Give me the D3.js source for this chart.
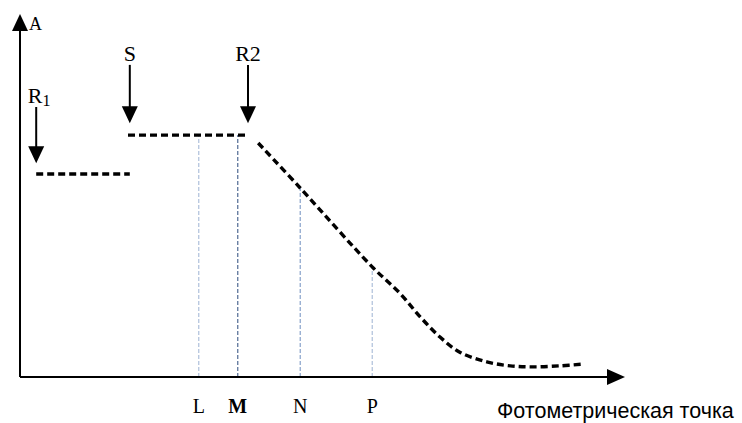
<!DOCTYPE html>
<html>
<head>
<meta charset="utf-8">
<script src="https://cdn.jsdelivr.net/npm/d3@7"></script>
<style>
  body { margin: 0; background: #fff; }
  svg { display: block; }
</style>
</head>
<body>
<script>
// plateaus (x from, x to, A level)
var plateauR1 = [[2.7, 56.4], [18.3, 56.4]];
var plateauS = [[18.0, 67.2], [38.0, 67.2]];
// falling part of the curve
var slope = [[39.7, 65.0], [46.7, 52.5], [58.7, 30.6], [63.3, 23.3], [66.7, 16.7],
             [70.0, 11.1], [73.3, 6.9], [77.8, 4.2], [81.7, 3.1], [85.5, 2.8],
             [90.0, 3.1], [93.8, 3.6]];

var markNames = ["L", "M", "N", "P"];
var markX = [29.8, 36.3, 46.7, 58.7];
var markTop = [67.2, 67.2, 52.5, 30.6];
var markColor = ["#9db3d3", "#2c4a7c", "#6f8fbf", "#9db3d3"];

var arrowNames = ["R1", "S", "R2"];
var arrowX = [2.7, 18.3, 38.0];
var arrowTail = [75.0, 86.7, 86.7];
var arrowTip = [59.4, 70.5, 70.5];

var width = 742, height = 423;

var svg = d3.select("body").append("svg")
    .attr("width", width)
    .attr("height", height);

var x = d3.scaleLinear().domain([0, 100]).range([20, 620]);
var y = d3.scaleLinear().domain([0, 100]).range([377, 17]);

// vertical dashed guides
svg.selectAll(".guide")
    .data(markX)
    .enter().append("line")
    .attr("x1", function(d) { return x(d); })
    .attr("x2", function(d) { return x(d); })
    .attr("y1", y(0))
    .attr("y2", function(d, i) { return y(markTop[i]); })
    .style("stroke", function(d, i) { return markColor[i]; })
    .style("stroke-width", 1)
    .style("stroke-dasharray", "4,2");

// axes
svg.append("line")
    .attr("x1", x(0)).attr("y1", y(0))
    .attr("x2", x(99)).attr("y2", y(0))
    .style("stroke", "#000").style("stroke-width", 2);
svg.append("path")
    .attr("d", "M" + (x(100) + 5) + "," + y(0) + "L" + (x(100) - 13) + "," + (y(0) - 8) + "L" + (x(100) - 13) + "," + (y(0) + 8) + "Z")
    .style("fill", "#000");

svg.append("line")
    .attr("x1", x(0)).attr("y1", y(0))
    .attr("x2", x(0)).attr("y2", y(98))
    .style("stroke", "#000").style("stroke-width", 2);
svg.append("path")
    .attr("d", "M" + x(0) + "," + (y(100) - 3) + "L" + (x(0) - 8) + "," + (y(100) + 14) + "L" + (x(0) + 8) + "," + (y(100) + 14) + "Z")
    .style("fill", "#000");

svg.append("text")
    .attr("x", x(0) + 9).attr("y", y(100) + 13)
    .style("font-family", "Liberation Serif, serif")
    .style("font-size", "18px")
    .text("A");

// dashed curve
var line = d3.line()
    .x(function(d) { return x(d[0]); })
    .y(function(d) { return y(d[1]); });

var curveStyle = function(sel) {
  sel.style("fill", "none")
     .style("stroke", "#000")
     .style("stroke-width", 3.4)
     .style("stroke-dasharray", "7,4");
};

svg.append("path").datum(plateauR1).attr("d", line).call(curveStyle);
svg.append("path").datum(plateauS).attr("d", line).call(curveStyle);
svg.append("path").datum(slope)
    .attr("d", line.curve(d3.curveCatmullRom))
    .call(curveStyle);

// arrows pointing down
svg.selectAll(".arr")
    .data(arrowX)
    .enter().append("line")
    .attr("x1", function(d) { return x(d); })
    .attr("x2", function(d) { return x(d); })
    .attr("y1", function(d, i) { return y(arrowTail[i]); })
    .attr("y2", function(d, i) { return y(arrowTip[i]) - 10; })
    .style("stroke", "#000").style("stroke-width", 2);

svg.selectAll(".head")
    .data(arrowX)
    .enter().append("path")
    .attr("d", function(d, i) {
      var tx = x(d), ty = y(arrowTip[i]);
      return "M" + tx + "," + ty + "L" + (tx - 8) + "," + (ty - 17) + "L" + (tx + 8) + "," + (ty - 17) + "Z";
    })
    .style("fill", "#000");

var arrowLabels = svg.selectAll(".alab")
    .data(arrowNames)
    .enter().append("text")
    .attr("x", function(d, i) { return x(arrowX[i]) + (d == "R1" ? 3 : 0); })
    .attr("y", function(d, i) { return y(arrowTail[i]) - 4; })
    .attr("text-anchor", "middle")
    .style("font-family", "Liberation Serif, serif")
    .style("font-size", "22px");

arrowLabels.each(function(d) {
  var t = d3.select(this);
  if (d == "R1") {
    t.append("tspan").text("R");
    t.append("tspan").attr("dy", 3).style("font-size", "16px").text("1");
  } else {
    t.text(d);
  }
});

// mark labels
svg.selectAll(".mlab")
    .data(markNames)
    .enter().append("text")
    .attr("x", function(d, i) { return x(markX[i]); })
    .attr("y", 413)
    .attr("text-anchor", "middle")
    .style("font-family", "Liberation Serif, serif")
    .style("font-size", "20px")
    .style("font-weight", function(d) { return d == "M" ? "bold" : "normal"; })
    .text(function(d) { return d; });

svg.append("text")
    .attr("x", 497).attr("y", 418)
    .style("font-family", "Liberation Sans, Arial, sans-serif")
    .style("font-size", "21.5px")
    .text("Фотометрическая точка");
</script>
</body>
</html>
